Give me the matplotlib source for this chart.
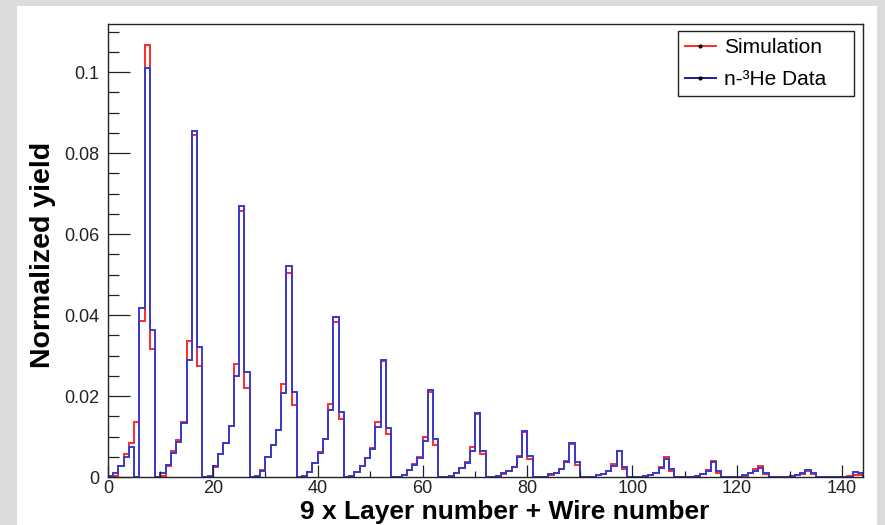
import matplotlib
matplotlib.use('Agg')
import matplotlib.pyplot as plt
from matplotlib.lines import Line2D
from matplotlib.patches import Rectangle
from matplotlib.ticker import MultipleLocator, FuncFormatter
import numpy as np

plt.rcParams['font.family'] = ['Liberation Sans', 'DejaVu Sans']

# one row per layer, 9 wires each (bin = 9 x layer + wire)
sim = [
    0.0, 0.0003, 0.0028, 0.0057, 0.0083, 0.0135, 0.0386, 0.1066, 0.0316,
    0.0, 0.0002, 0.0028, 0.0063, 0.0092, 0.0135, 0.0336, 0.0845, 0.0274,
    0.0, 0.0001, 0.0024, 0.0057, 0.0084, 0.0127, 0.0278, 0.0656, 0.0219,
    0.0, 0.0001, 0.0017, 0.0049, 0.0080, 0.0117, 0.0229, 0.0505, 0.0177,
    0.0, 0.0001, 0.0013, 0.0035, 0.0061, 0.0095, 0.0180, 0.0383, 0.0144,
    0.0, 0.0001, 0.0012, 0.0028, 0.0048, 0.0071, 0.0135, 0.0286, 0.0106,
    0.0, 0.0000, 0.0005, 0.0017, 0.0031, 0.0050, 0.0099, 0.0210, 0.0080,
    0.0, 0.0000, 0.0002, 0.0010, 0.0022, 0.0036, 0.0075, 0.0155, 0.0056,
    0.0, 0.0000, 0.0002, 0.0008, 0.0016, 0.0025, 0.0053, 0.0112, 0.0044,
    0.0, 0.0000, 0.0001, 0.0006, 0.0011, 0.0020, 0.0039, 0.0082, 0.0030,
    0.0, 0.0000, 0.0001, 0.0004, 0.0008, 0.0016, 0.0031, 0.0065, 0.0019,
    0.0, 0.0000, 0.0000, 0.0002, 0.0005, 0.0011, 0.0024, 0.0049, 0.0016,
    0.0, 0.0000, 0.0000, 0.0001, 0.0003, 0.0008, 0.0017, 0.0039, 0.0011,
    0.0, 0.0000, 0.0000, 0.0000, 0.0003, 0.0010, 0.0019, 0.0026, 0.0007,
    0.0, 0.0000, 0.0000, 0.0000, 0.0002, 0.0005, 0.0008, 0.0016, 0.0007,
    0.0, 0.0000, 0.0000, 0.0000, 0.0000, 0.0000, 0.0003, 0.0006, 0.0006,
]
data = [
    0.0003, 0.0010, 0.0028, 0.0050, 0.0075, 0.0000, 0.0418, 0.1010, 0.0364,
    0.0, 0.0009, 0.0030, 0.0059, 0.0086, 0.0133, 0.0290, 0.0855, 0.0320,
    0.0, 0.0002, 0.0026, 0.0057, 0.0084, 0.0125, 0.0250, 0.0670, 0.0260,
    0.0, 0.0002, 0.0016, 0.0049, 0.0080, 0.0117, 0.0208, 0.0520, 0.0210,
    0.0, 0.0002, 0.0013, 0.0034, 0.0060, 0.0094, 0.0165, 0.0394, 0.0161,
    0.0, 0.0002, 0.0013, 0.0026, 0.0046, 0.0069, 0.0123, 0.0288, 0.0120,
    0.0, 0.0001, 0.0005, 0.0017, 0.0030, 0.0048, 0.0090, 0.0214, 0.0094,
    0.0, 0.0000, 0.0002, 0.0010, 0.0021, 0.0034, 0.0064, 0.0157, 0.0065,
    0.0, 0.0000, 0.0002, 0.0009, 0.0016, 0.0024, 0.0049, 0.0114, 0.0052,
    0.0, 0.0000, 0.0000, 0.0007, 0.0011, 0.0019, 0.0036, 0.0083, 0.0036,
    0.0, 0.0000, 0.0000, 0.0005, 0.0008, 0.0015, 0.0028, 0.0063, 0.0024,
    0.0, 0.0000, 0.0000, 0.0002, 0.0005, 0.0010, 0.0021, 0.0045, 0.0019,
    0.0, 0.0000, 0.0000, 0.0001, 0.0003, 0.0007, 0.0016, 0.0036, 0.0016,
    0.0, 0.0000, 0.0000, 0.0000, 0.0004, 0.0011, 0.0016, 0.0022, 0.0009,
    0.0, 0.0000, 0.0000, 0.0000, 0.0002, 0.0005, 0.0009, 0.0018, 0.0010,
    0.0, 0.0000, 0.0000, 0.0000, 0.0000, 0.0000, 0.0001, 0.0013, 0.0009,
]
bin_edges = np.arange(len(sim) + 1)
labels = ['Simulation', 'n-³He Data']
sim_color = '#ff2a2a'
data_color = '#3a3acc'

fig = plt.figure(figsize=(8.85, 5.25), dpi=100, facecolor='#dcdcdc')
# white pad inside the grey canvas border
fig.patches.append(Rectangle((17 / 885, 0), 860 / 885, 519 / 525,
                             transform=fig.transFigure, facecolor='white',
                             edgecolor='none', zorder=-10))

ax = fig.add_axes([108 / 885, 48 / 525, 755 / 885, 453 / 525])
ax.stairs(sim, bin_edges, color=sim_color, lw=1.4)
ax.stairs(data, bin_edges, color=data_color, lw=1.4)

ax.set_xlim(0, 144)
ax.set_ylim(0, 0.1119)

ax.xaxis.set_major_locator(MultipleLocator(20))
ax.xaxis.set_minor_locator(MultipleLocator(10))
ax.yaxis.set_major_locator(MultipleLocator(0.02))
ax.yaxis.set_minor_locator(MultipleLocator(0.005))
ax.yaxis.set_major_formatter(FuncFormatter(lambda v, p: '%g' % round(v, 4)))

ax.tick_params(which='both', direction='in', top=False, right=False,
               color='#222222', width=0.9, labelcolor='#222222')
ax.tick_params(axis='y', which='major', length=16, labelsize=13, pad=6)
ax.tick_params(axis='y', which='minor', length=8)
ax.tick_params(axis='x', which='major', length=9, labelsize=13, pad=2)
ax.tick_params(axis='x', which='minor', length=4)
for s in ax.spines.values():
    s.set_linewidth(1.0)
    s.set_color('#222222')

handles = [Line2D([], [], color=c, lw=1.4, marker='.', markersize=4,
                  markerfacecolor='k', markeredgecolor='k')
           for c in (sim_color, '#1c1c9c')]
leg = ax.legend(handles, labels, loc='upper left',
                bbox_to_anchor=(0.755, 0.83, 0.233, 0.1545), mode='expand',
                borderaxespad=0, fancybox=False, edgecolor='#222222',
                framealpha=1, fontsize=15, handlelength=1.45,
                handletextpad=0.4, labelspacing=0.6, borderpad=0.35)
leg.get_frame().set_linewidth(1.0)

fig.text(43 / 885, 1 - 255 / 525, 'Normalized yield', rotation=90,
         fontsize=20.5, fontweight='bold', ha='center', va='center')
fig.text(505 / 885, 1 - 512 / 525, '9 x Layer number + Wire number',
         fontsize=19, fontweight='bold', ha='center', va='center')

fig.savefig('out.png', dpi=100, facecolor=fig.get_facecolor())
